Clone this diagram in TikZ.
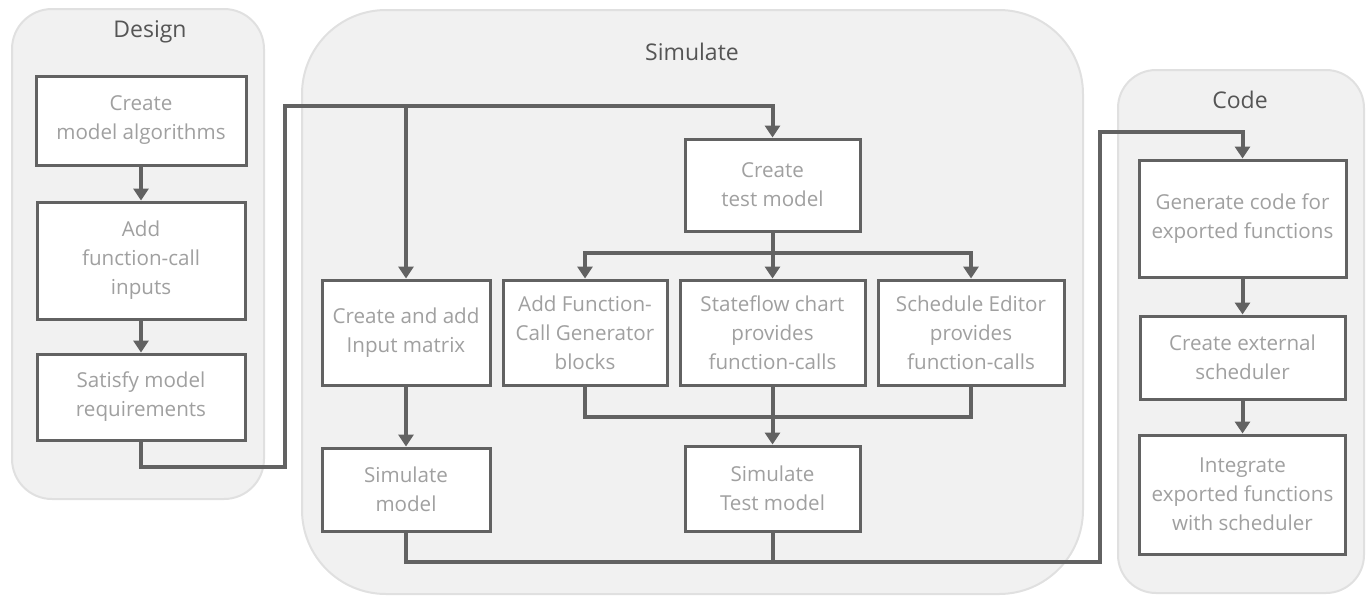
\documentclass[tikz,border=0pt]{standalone}
\usepackage{fontspec}
\setmainfont{Open Sans}
\usepackage{tikz}
\usetikzlibrary{positioning, arrows.meta, calc}
\usepackage{xcolor}
\definecolor{ThemeLine}{RGB}{98,98,98}
\definecolor{ThemeText}{RGB}{160,160,160}
\definecolor{ThemeTitle}{RGB}{85,85,85}
\definecolor{ThemePanel}{RGB}{241,241,241}
\definecolor{ThemePanelEdge}{RGB}{224,224,224}

\begin{document}
\begin{tikzpicture}[
    x=0.5pt, y=-0.5pt,
    panel/.style={fill=ThemePanel, draw=ThemePanelEdge, line width=1pt},
    title/.style={text=ThemeTitle, font=\fontsize{11.5}{14}\selectfont},
    box/.style={draw=ThemeLine, line width=1.5pt, fill=white, align=center, text=ThemeText, inner sep=2pt, font=\fontsize{10.3}{14.5}\selectfont},
    line/.style={draw=ThemeLine, line width=2pt},
    arr/.style={line, -{Triangle[length=6pt, width=7.5pt]}},
    node distance=17pt and 5pt
]
    \useasboundingbox (0,0) rectangle (1366,596);
    % panels
    \draw[panel, rounded corners=20pt] (12,9) rectangle (264,499);
    \draw[panel, rounded corners=42pt] (302,10) rectangle (1083,594);
    \draw[panel, rounded corners=19pt] (1118,70) rectangle (1364,593);
    \node[title] (tdesign) at (150,32) {Design};
    \node[title] (tsimulate) at (692,52) {Simulate};
    \node[title] (tcode) at (1240,100) {Code};
    % design
    \node[box, minimum width=105pt, minimum height=44.5pt] (algorithms) at (141,120.5) {Create\\model algorithms};
    \node[box, below=of algorithms, minimum width=104pt, minimum height=58.5pt] (fcinputs) {Add\\function-call\\inputs};
    \node[box, below=16pt of fcinputs, minimum width=104pt, minimum height=43pt] (requirements) {Satisfy model\\requirements};
    % simulate
    \node[box, minimum width=87.5pt, minimum height=46pt] (testmodel) at (772.5,185) {Create\\test model};
    \node[box, minimum width=92.5pt, minimum height=52.5pt] (stateflow) at (772.5,332.5) {Stateflow chart\\provides\\function-calls};
    \node[box, left=of stateflow, minimum width=82pt, minimum height=52.5pt] (fcgen) {Add Function-\\Call Generator\\blocks};
    \node[box, right=of stateflow, minimum width=93pt, minimum height=52.5pt] (scheduleeditor) {Schedule Editor\\provides\\function-calls};
    \node[box, left=of fcgen, minimum width=84pt, minimum height=52.5pt] (inputmatrix) {Create and add\\Input matrix};
    \node[box, below=30pt of inputmatrix, minimum width=84pt, minimum height=41.5pt] (simmodel) {Simulate\\model};
    \node[box, below=29pt of stateflow, minimum width=87.5pt, minimum height=42.5pt] (simtest) {Simulate\\Test model};
    % code
    \node[box, minimum width=103.5pt, minimum height=58.5pt] (gencode) at (1242.5,218.5) {Generate code for\\exported functions};
    \node[box, below=18pt of gencode, minimum width=102.5pt, minimum height=41.5pt] (extscheduler) {Create external\\scheduler};
    \node[box, below=16.5pt of extscheduler, minimum width=103pt, minimum height=59.5pt] (integrate) {Integrate\\exported functions\\with scheduler};
    % bends
    \coordinate (designout) at (285,467);
    \coordinate (designtop) at (285,106);
    \coordinate (split) at (772.5,253);
    \coordinate (merge) at (772.5,417);
    \coordinate (simout) at (1100,562);
    \coordinate (codetop) at (1100,132);
    \draw[arr] (algorithms) -- (fcinputs);
    \draw[arr] (fcinputs) -- (requirements);
    \draw[arr] (requirements.south) |- (designout) -- (designtop) -| (testmodel.north);
    \draw[arr] (inputmatrix.north |- designtop) -- (inputmatrix.north);
    \draw[line] (testmodel) -- (split);
    \draw[arr] (split) -| (fcgen.north);
    \draw[arr] (split) -- (stateflow.north);
    \draw[arr] (split) -| (scheduleeditor.north);
    \draw[line] (fcgen.south) |- (merge);
    \draw[line] (scheduleeditor.south) |- (merge);
    \draw[arr] (stateflow) -- (simtest);
    \draw[arr] (inputmatrix) -- (simmodel);
    \draw[arr] (simmodel.south) |- (simout) -- (codetop) -| (gencode.north);
    \draw[line] (simtest) -- (simtest.south |- simout);
    \draw[arr] (gencode) -- (extscheduler);
    \draw[arr] (extscheduler) -- (integrate);
\end{tikzpicture}
\end{document}
